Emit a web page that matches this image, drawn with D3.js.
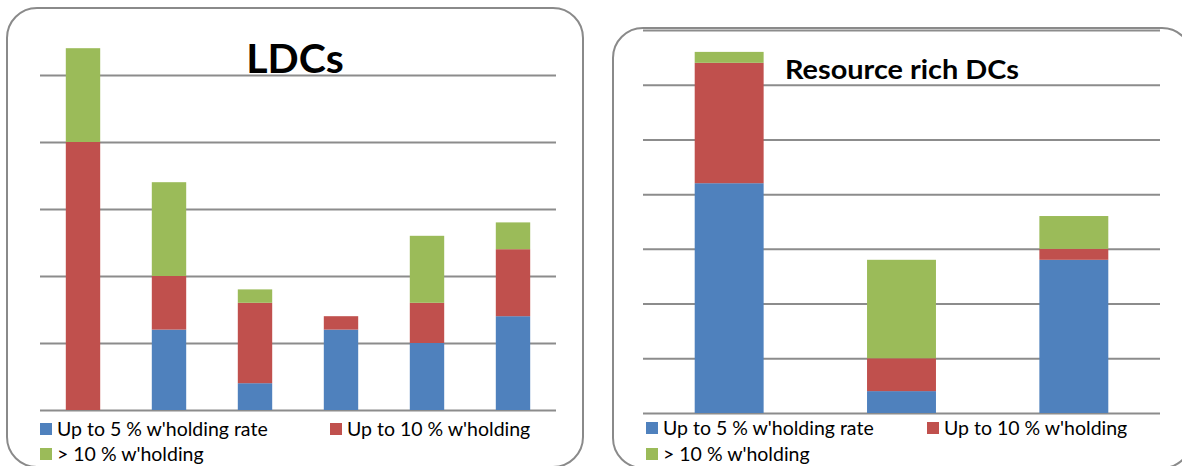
<!DOCTYPE html>
<html>
<head>
<meta charset="utf-8">
<script src="https://cdn.jsdelivr.net/npm/d3@7"></script>
<style>
  html, body { margin: 0; padding: 0; background: #fff; }
  svg { display: block; }
  text { font-family: Lato, "Open Sans", sans-serif; fill: #000; }
</style>
</head>
<body>
<svg id="chart" width="1182" height="466"></svg>
<script>
// ---- Data ----
const seriesNames = ["Up to 5 % w'holding rate", "Up to 10 % w'holding", "> 10 % w'holding"];
const seriesColors = ["#4F81BD", "#C0504D", "#9BBB59"];

const ldcCategories = ["LDC 1", "LDC 2", "LDC 3", "LDC 4", "LDC 5", "LDC 6"];
const ldcUpTo5 = [0, 6, 2, 6, 5, 7];
const ldcUpTo10 = [20, 4, 6, 1, 3, 5];
const ldcOver10 = [7, 7, 1, 0, 5, 2];
const ldcTicks = [0, 5, 10, 15, 20, 25];

const rrCategories = ["RR 1", "RR 2", "RR 3"];
const rrUpTo5 = [21, 2, 14];
const rrUpTo10 = [11, 3, 1];
const rrOver10 = [1, 9, 3];
const rrTicks = [0, 5, 10, 15, 20, 25, 30, 35];

const svg = d3.select("#chart");
const keys = ["a", "b", "c"];

function panel(cfg) {
  const g = svg.append("g");
  // frame
  g.append("rect")
    .attr("x", cfg.frame[0]).attr("y", cfg.frame[1])
    .attr("width", cfg.frame[2] - cfg.frame[0]).attr("height", cfg.frame[3] - cfg.frame[1])
    .attr("rx", 30).attr("ry", 30)
    .attr("fill", "#fff").attr("stroke", "#8a8a8a").attr("stroke-width", 2);

  const x = d3.scaleBand().domain(cfg.categories)
    .range([cfg.left, cfg.right]).paddingInner(0.6).paddingOuter(0.3);
  const y = d3.scaleLinear().domain([0, d3.max(cfg.ticks)]).range([cfg.bottom, cfg.top]);

  // gridlines via axis
  const axis = d3.axisLeft(y).tickValues(cfg.ticks).tickSize(-(cfg.right - cfg.left)).tickFormat("");
  const ag = g.append("g").attr("transform", `translate(${cfg.left},0)`).call(axis);
  ag.select(".domain").remove();
  ag.selectAll(".tick line").attr("stroke", "#8c8c8c").attr("stroke-width", 2);

  const rows = cfg.categories.map((c, i) => ({ cat: c, a: cfg.s1[i], b: cfg.s2[i], c: cfg.s3[i] }));
  const stacked = d3.stack().keys(keys)(rows);

  g.selectAll("g.series").data(stacked).join("g")
    .attr("class", "series")
    .attr("fill", (d, i) => seriesColors[i])
    .selectAll("rect").data(d => d).join("rect")
    .attr("x", d => x(d.data.cat))
    .attr("width", x.bandwidth())
    .attr("y", d => y(d[1]))
    .attr("height", d => Math.max(0, y(d[0]) - y(d[1])));

  // title
  const t = g.append("text")
    .attr("x", cfg.titleX).attr("y", cfg.titleY)
    .attr("text-anchor", "middle")
    .attr("font-weight", "bold")
    .attr("font-size", cfg.titleSize)
    .text(cfg.title);
  if (cfg.titleLen) t.attr("textLength", cfg.titleLen).attr("lengthAdjust", "spacingAndGlyphs");

  // legend
  cfg.legend.forEach((p, i) => {
    g.append("rect").attr("x", p[0]).attr("y", p[1]).attr("width", 12).attr("height", 12)
      .attr("fill", seriesColors[i]);
    g.append("text").attr("x", p[0] + 17).attr("y", p[1] + 13)
      .attr("font-size", 19.5).text(seriesNames[i]);
  });
}

panel({
  frame: [7, 8, 583, 467],
  categories: ldcCategories, s1: ldcUpTo5, s2: ldcUpTo10, s3: ldcOver10, ticks: ldcTicks,
  left: 40, right: 556, top: 75, bottom: 410,
  title: "LDCs", titleX: 295, titleY: 73, titleSize: 41,
  legend: [[40, 423], [330, 423], [40, 448]]
});

panel({
  frame: [613, 28, 1192, 468],
  categories: rrCategories, s1: rrUpTo5, s2: rrUpTo10, s3: rrOver10, ticks: rrTicks,
  left: 643, right: 1160, top: 30, bottom: 413,
  title: "Resource rich DCs", titleX: 902, titleY: 79, titleSize: 27, titleLen: 234,
  legend: [[646, 422], [927, 422], [646, 448]]
});
</script>
</body>
</html>
